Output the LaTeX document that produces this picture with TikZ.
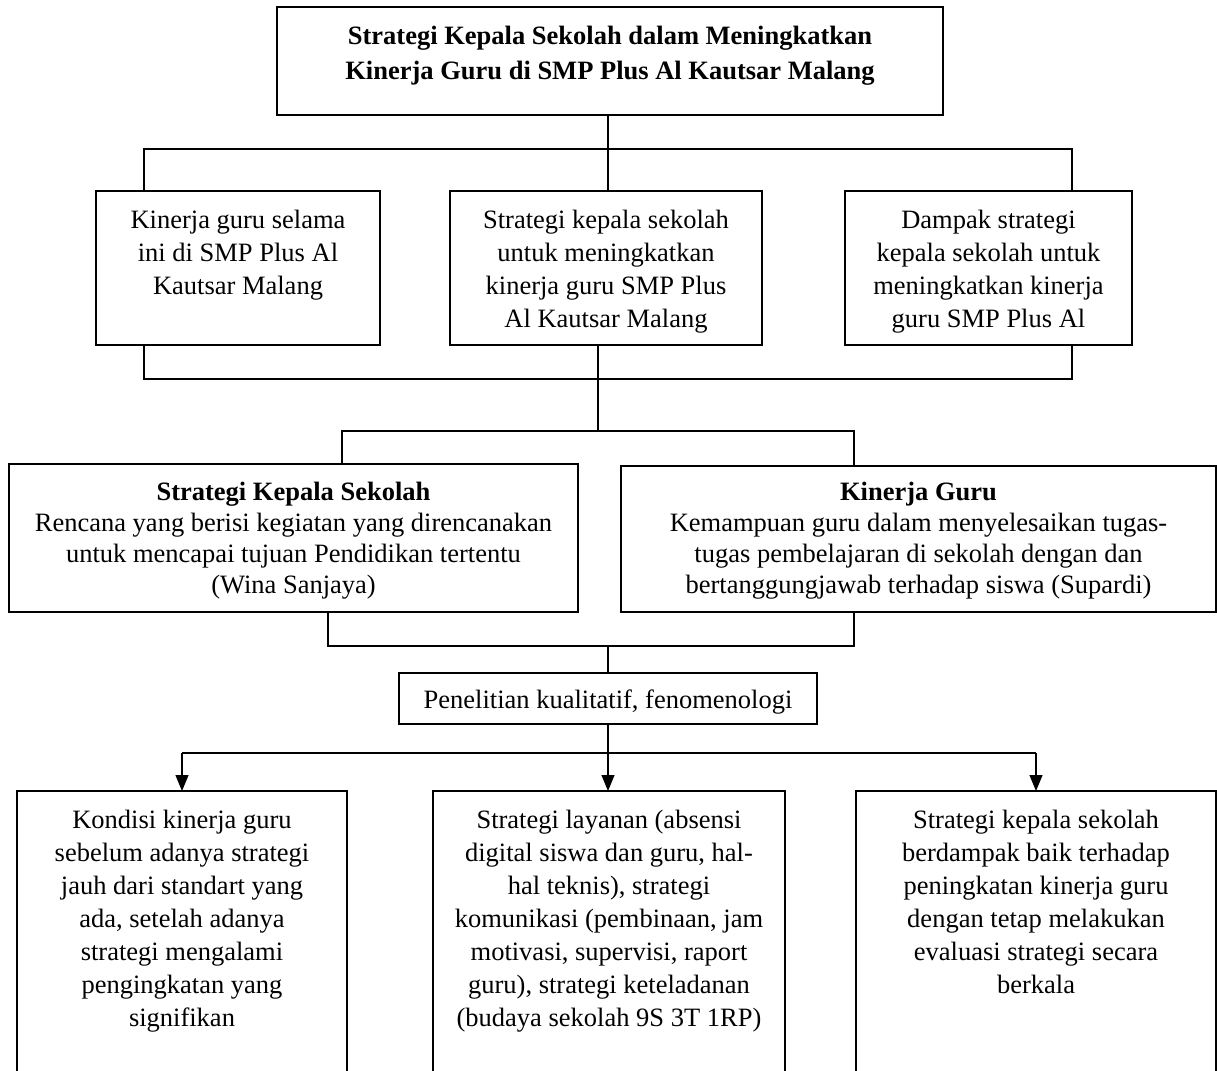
\documentclass[tikz,border=0pt]{standalone}
\usepackage{fontspec}
\setmainfont{Liberation Serif}
\usetikzlibrary{arrows.meta}
\newcommand\myfirst{\rule{0pt}{20pt}}
\begin{document}
\begin{tikzpicture}[x=1pt,y=-1pt,
  every path/.style={line width=1.1pt},
  box/.style={draw, line width=1.1pt, rectangle, anchor=north west, outer sep=0pt, inner sep=0pt},
  txt/.style={anchor=north, align=center, inner sep=0pt, font=\fontsize{26.5}{33}\selectfont},
  txtb/.style={anchor=north, align=center, inner sep=0pt, font=\fontsize{26.5}{31}\selectfont},
  arr/.style={-{Triangle[length=16pt,width=13pt]}}]
\useasboundingbox (0,0) rectangle (1217,1070);

\node[box, minimum width=666pt, minimum height=108pt,
  label={[txt, yshift=-17pt, font=\fontsize{26.5}{34.5}\selectfont\bfseries]north:{\myfirst Strategi Kepala Sekolah dalam Meningkatkan\\Kinerja Guru di SMP Plus Al Kautsar Malang}}]
  (top) at (277,7) {};

\node[box, minimum width=284pt, minimum height=154pt,
  label={[txt, yshift=-16.5pt]north:{\myfirst Kinerja guru selama\\ini di SMP Plus Al\\Kautsar Malang}}]
  (m1) at (96,191) {};
\node[box, minimum width=312pt, minimum height=154pt,
  label={[txt, yshift=-16.5pt]north:{\myfirst Strategi kepala sekolah\\untuk meningkatkan\\kinerja guru SMP Plus\\Al Kautsar Malang}}]
  (m2) at (450,191) {};
\node[box, minimum width=287pt, minimum height=154pt,
  label={[txt, yshift=-16.5pt]north:{\myfirst Dampak strategi\\kepala sekolah untuk\\meningkatkan kinerja\\guru SMP Plus Al}}]
  (m3) at (845,191) {};

\node[box, minimum width=569pt, minimum height=148pt,
  label={[txtb, yshift=-16pt]north:{\myfirst\textbf{Strategi Kepala Sekolah}\\Rencana yang berisi kegiatan yang direncanakan\\untuk mencapai tujuan Pendidikan tertentu\\(Wina Sanjaya)}}]
  (sks) at (9,464) {};
\node[box, minimum width=595pt, minimum height=146pt,
  label={[txtb, yshift=-14pt]north:{\myfirst\textbf{Kinerja Guru}\\Kemampuan guru dalam menyelesaikan tugas-\\tugas pembelajaran di sekolah dengan dan\\bertanggungjawab terhadap siswa (Supardi)}}]
  (kg) at (621,466) {};

\node[box, minimum width=418pt, minimum height=51pt,
  label={[txt, yshift=-15pt]north:{\myfirst Penelitian kualitatif, fenomenologi}}]
  (pen) at (399,673) {};

\node[box, minimum width=330pt, minimum height=330pt,
  label={[txt, yshift=-16.5pt]north:{\myfirst Kondisi kinerja guru\\sebelum adanya strategi\\jauh dari standart yang\\ada, setelah adanya\\strategi mengalami\\pengingkatan yang\\signifikan}}]
  (bx1) at (17,791) {};
\node[box, minimum width=352pt, minimum height=330pt,
  label={[txt, yshift=-16.5pt]north:{\myfirst Strategi layanan (absensi\\digital siswa dan guru, hal-\\hal teknis), strategi\\komunikasi (pembinaan, jam\\motivasi, supervisi, raport\\guru), strategi keteladanan\\(budaya sekolah 9S 3T 1RP)}}]
  (bx2) at (433,791) {};
\node[box, minimum width=360pt, minimum height=330pt,
  label={[txt, yshift=-16.5pt]north:{\myfirst Strategi kepala sekolah\\berdampak baik terhadap\\peningkatan kinerja guru\\dengan tetap melakukan\\evaluasi strategi secara\\berkala}}]
  (bx3) at (856,791) {};

% connectors
\coordinate (j1) at (608,149);
\coordinate (a1) at (144,149);
\coordinate (a3) at (1072,149);
\draw (j1 |- top.south) -- (j1 |- m2.north);
\draw (a1 |- m1.north) -- (a1) -- (a3) -- (a3 |- m3.north);

\coordinate (b1c) at (144,379);
\coordinate (b3c) at (1072,379);
\coordinate (j2) at (598,379);
\coordinate (j3) at (598,431);
\coordinate (c1) at (342,431);
\coordinate (c2) at (854,431);
\draw (b1c |- m1.south) -- (b1c) -- (b3c) -- (b3c |- m3.south);
\draw (j2 |- m2.south) -- (j3);
\draw (c1 |- sks.north) -- (c1) -- (c2) -- (c2 |- kg.north);

\coordinate (d1) at (328,646);
\coordinate (d2) at (854,646);
\coordinate (j4) at (608,646);
\draw (d1 |- sks.south) -- (d1) -- (d2) -- (d2 |- kg.south);
\draw (j4) -- (j4 |- pen.north);

\coordinate (e0) at (608,753);
\coordinate (e1) at (182,753);
\coordinate (e3) at (1036,753);
\draw (pen.south) -- (e0);
\draw (e1) -- (e3);
\draw[arr] (e1) -- (e1 |- bx1.north);
\draw[arr] (e0) -- (e0 |- bx2.north);
\draw[arr] (e3) -- (e3 |- bx3.north);
\end{tikzpicture}
\end{document}
